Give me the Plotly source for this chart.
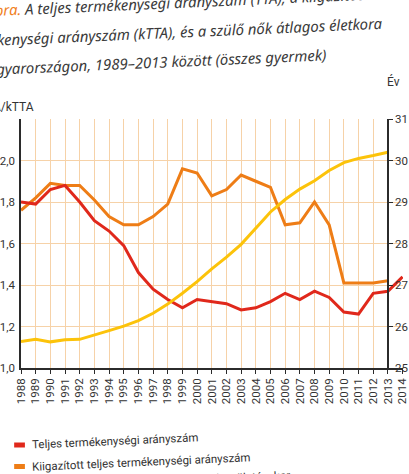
import plotly.graph_objects as go

# ---- data ----
years_tta = list(range(1988, 2015))
tta = [1.80, 1.79, 1.86, 1.88, 1.80, 1.71, 1.66, 1.59, 1.46, 1.38, 1.33, 1.29, 1.33,
       1.32, 1.31, 1.28, 1.29, 1.32, 1.36, 1.33, 1.37, 1.34, 1.27, 1.26, 1.36, 1.37, 1.44]
years_k = list(range(1988, 2014))
ktta = [1.76, 1.82, 1.89, 1.88, 1.88, 1.81, 1.73, 1.69, 1.69, 1.73, 1.79, 1.96, 1.94,
        1.83, 1.86, 1.93, 1.90, 1.87, 1.69, 1.70, 1.80, 1.69, 1.41, 1.41, 1.41, 1.42]
years_age = list(range(1988, 2014))
age = [25.64, 25.69, 25.63, 25.68, 25.69, 25.79, 25.90, 26.01, 26.14, 26.32, 26.54, 26.80, 27.08,
       27.39, 27.67, 27.98, 28.36, 28.76, 29.06, 29.31, 29.51, 29.76, 29.95, 30.05, 30.12, 30.20]
x_ticks = list(range(1988, 2015))
left_ticks = [1.0, 1.2, 1.4, 1.6, 1.8, 2.0, 2.2]
left_labels = ["1,0", "1,2", "1,4", "1,6", "1,8", "2,0", ""]
right_ticks = [25, 26, 27, 28, 29, 30, 31]

title_l1 = '<span style="color:#f0801e">ábra.</span> A teljes termékenységi arányszám (TTA), a kiigazított'
title_l2 = "termékenységi arányszám (kTTA), és a szülő nők átlagos életkora"
title_l3 = "Magyarországon, 1989–2013 között (összes gyermek)"
legend_names = ["Teljes termékenységi arányszám",
                "Kiigazított teljes termékenységi arányszám",
                "Szülő nők átlagos életkora a gyermek születésekor"]

RED = "#e0281b"
ORANGE = "#ee7d16"
YELLOW = "#fcc30a"
GRID = "#f6d2a8"
AX = "#2b2b2b"
TXT = "#333333"

W, H = 409, 474
L, R, T, B = 18, 0, 119, 106
PW, PH = W - L - R, H - T - B


def px(x):
    return (x - L) / PW


def py(y):
    return (H - B - y) / PH


fig = go.Figure()
fig.add_trace(go.Scatter(x=years_age, y=age, yaxis="y2", mode="lines",
                         line=dict(color=YELLOW, width=3), name=legend_names[2]))
fig.add_trace(go.Scatter(x=years_k, y=ktta, mode="lines",
                         line=dict(color=ORANGE, width=3), name=legend_names[1]))
fig.add_trace(go.Scatter(x=years_tta, y=tta, mode="lines",
                         line=dict(color=RED, width=3), name=legend_names[0]))

tickfont = dict(family="Roboto, Noto Sans, sans-serif", size=11.5, color=TXT)

fig.update_layout(
    width=W, height=H,
    margin=dict(l=L, r=R, t=T, b=B, pad=0),
    paper_bgcolor="white", plot_bgcolor="white",
    showlegend=False,
    separators=", ",
    xaxis=dict(range=[1988, 2014.03], tickmode="array", tickvals=x_ticks,
               ticktext=[str(v) for v in x_ticks], tickangle=-90,
               ticklabeloverflow="allow",
               showgrid=True, gridcolor=GRID, gridwidth=1,
               showline=True, linecolor=AX, linewidth=1.5,
               ticks="outside", ticklen=4, tickcolor=AX, tickwidth=1.2,
               tickfont=tickfont, zeroline=False),
    yaxis=dict(range=[1.0, 2.2], tickmode="array", tickvals=left_ticks, ticktext=left_labels,
               ticklabeloverflow="allow",
               showgrid=True, gridcolor=GRID, gridwidth=1,
               showline=True, linecolor=AX, linewidth=1.5,
               ticks="", tickfont=tickfont, zeroline=False, ticklabelstandoff=2),
    yaxis2=dict(range=[25, 31], tickmode="array", tickvals=right_ticks,
                overlaying="y", side="right", anchor="free", position=25 / 26.03,
                ticklabeloverflow="allow",
                showgrid=False, showline=True, linecolor=AX, linewidth=1.5,
                ticks="outside", ticklen=4, tickcolor=AX,
                tickfont=tickfont, zeroline=False),
)

ann = []
tfont = dict(family="Noto Sans, sans-serif", size=14.9, color="#3a3a3a")
ann.append(dict(text="<i>" + title_l1 + "</i>", x=px(-20), y=py(2), xref="paper", yref="paper",
                xanchor="left", yanchor="middle", showarrow=False, font=tfont, textangle=-2.5))
ann.append(dict(text="<i>" + title_l2 + "</i>", x=px(391), y=py(32), xref="paper", yref="paper",
                xanchor="right", yanchor="middle", showarrow=False, font=tfont, textangle=-2.5))
ann.append(dict(text="<i>" + title_l3 + "</i>", x=px(334), y=py(62), xref="paper", yref="paper",
                xanchor="right", yanchor="middle", showarrow=False, font=tfont, textangle=-2.5))
# axis titles
ann.append(dict(text="TTA/kTTA", x=px(33), y=py(107), xref="paper", yref="paper",
                xanchor="right", yanchor="middle", showarrow=False,
                font=dict(family="Roboto, sans-serif", size=12, color=TXT)))
ann.append(dict(text="Év", x=px(399), y=py(81), xref="paper", yref="paper",
                xanchor="center", yanchor="middle", showarrow=False,
                font=dict(family="Roboto, sans-serif", size=12, color=TXT)))
# legend
lfont = dict(family="Roboto, sans-serif", size=11.5, color=TXT)
leg_y = [441, 462, 481]
leg_rect_y = [445, 466.5, 488]
colors = [RED, ORANGE, YELLOW]
shapes = []
for name, yy, ry, c in zip(legend_names, leg_y, leg_rect_y, colors):
    ann.append(dict(text=name, x=px(27), y=py(yy), xref="paper", yref="paper",
                    xanchor="left", yanchor="middle", showarrow=False, font=lfont, textangle=-2.5))
    shapes.append(dict(type="rect", xref="paper", yref="paper",
                       x0=px(11), x1=px(22), y0=py(ry - 2.5), y1=py(ry + 2.5),
                       fillcolor=c, line=dict(width=0)))
fig.update_layout(annotations=ann, shapes=shapes)

fig.write_html("out.html")
